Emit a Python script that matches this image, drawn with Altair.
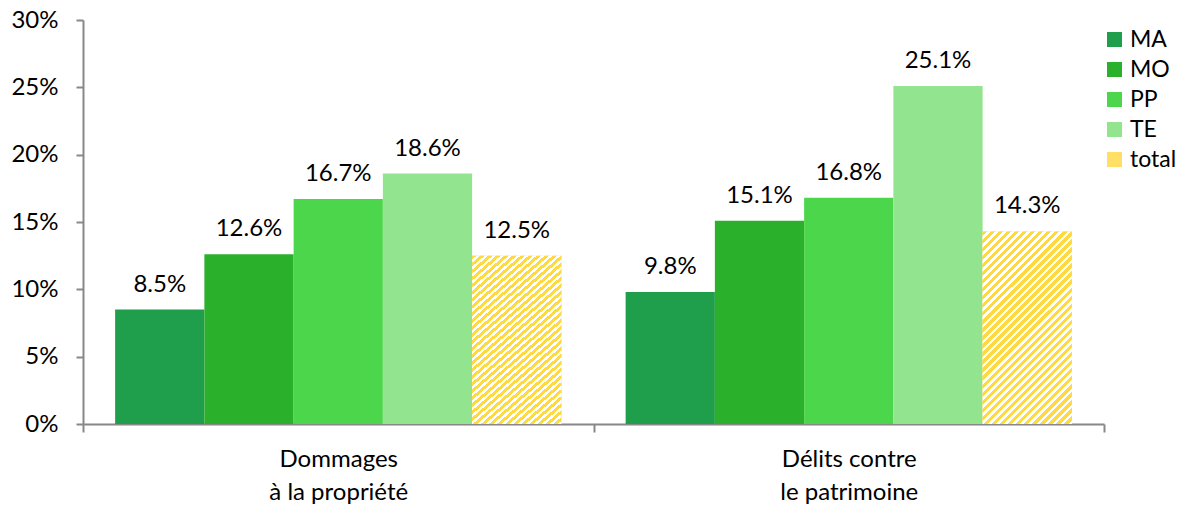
import altair as alt
import pandas as pd

categories = ["Dommages\nà la propriété", "Délits contre\nle patrimoine"]
series = ["MA", "MO", "PP", "TE", "total"]
values_dommages = [8.5, 12.6, 16.7, 18.6, 12.5]
values_delits = [9.8, 15.1, 16.8, 25.1, 14.3]
colors = ["#1f9e4c", "#2bb02b", "#4cd64c", "#93e48f", "#ffdf66"]
y_ticks = [0, 0.05, 0.10, 0.15, 0.20, 0.25, 0.30]

rows = []
for cat, vals in zip(categories, [values_dommages, values_delits]):
    for s, v in zip(series, vals):
        rows.append({"cat": cat, "series": s, "value": v / 100.0})
df = pd.DataFrame(rows)

FONT = "Lato"
FS = 24
W, H = 1021, 404

# hatch style for the "total" bars (diagonal stripes built as gradient stops)
bar_w, bar_h = 89.2, 192.6
lam = (bar_w + bar_h) / (bar_w ** 2 + bar_h ** 2)
n_stripes = 35
stops = []
for i in range(n_stripes):
    a = i / n_stripes
    b = (i + 0.55) / n_stripes
    c = (i + 1) / n_stripes
    stops += [
        alt.GradientStop(offset=a, color="#ffd940"),
        alt.GradientStop(offset=b, color="#ffd940"),
        alt.GradientStop(offset=b, color="#ffffff"),
        alt.GradientStop(offset=c, color="#ffffff"),
    ]
hatch = alt.LinearGradient(
    gradient="linear", stops=stops, x1=0, y1=0, x2=lam * bar_w, y2=lam * bar_h
)

x_enc = alt.X(
    "cat:N",
    sort=categories,
    scale=alt.Scale(paddingInner=0, paddingOuter=0),
    axis=alt.Axis(
        title=None,
        labelAngle=0,
        tickBand="extent",
        tickSize=8,
        labelPadding=15,
        labelBaseline="top",
        labelLineHeight=33,
        labelExpr="split(datum.label, '\\n')",
        labelFontSize=FS,
        labelFont=FONT,
        labelColor="#000000",
        domainColor="#888888",
        tickColor="#888888",
        domainWidth=2,
        tickWidth=2,
    ),
)
xoff_enc = alt.XOffset(
    "series:N", sort=series, scale=alt.Scale(paddingInner=0, paddingOuter=0.36)
)
y_enc = alt.Y(
    "value:Q",
    scale=alt.Scale(domain=[0, 0.30], nice=False),
    axis=alt.Axis(
        title=None,
        values=y_ticks,
        format=".0%",
        tickSize=7,
        labelPadding=18,
        labelFontSize=FS,
        labelFont=FONT,
        labelColor="#000000",
        domainColor="#888888",
        tickColor="#888888",
        domainWidth=2,
        tickWidth=2,
        grid=False,
    ),
)

base = alt.Chart(df)

bars = base.mark_bar(strokeWidth=0).encode(
    x=x_enc,
    xOffset=xoff_enc,
    y=y_enc,
    color=alt.Color(
        "series:N",
        sort=series,
        scale=alt.Scale(domain=series, range=colors),
        legend=alt.Legend(
            title=None,
            orient="none",
            legendX=1020,
            legendY=8,
            symbolType="square",
            symbolSize=225,
            symbolStrokeWidth=0,
            labelFontSize=23,
            labelFont=FONT,
            labelColor="#000000",
            labelOffset=4,
            rowPadding=6,
            padding=0,
        ),
    ),
)

hatched = base.transform_filter("datum.series == 'total'").mark_bar(
    strokeWidth=0, fill=hatch
).encode(x=x_enc, xOffset=xoff_enc, y=y_enc)

labels = base.mark_text(
    baseline="alphabetic", dy=-18, fontSize=FS, font=FONT, color="#000000"
).encode(
    x=x_enc,
    xOffset=xoff_enc,
    y=y_enc,
    text=alt.Text("value:Q", format=".1%"),
)

chart = (
    alt.layer(bars, hatched, labels)
    .properties(
        width=W, height=H, padding={"left": 2, "top": 0, "right": 0, "bottom": 0}
    )
    .configure_view(stroke=None)
)

chart.save("out.html", embed_options={"renderer": "svg", "actions": False})
